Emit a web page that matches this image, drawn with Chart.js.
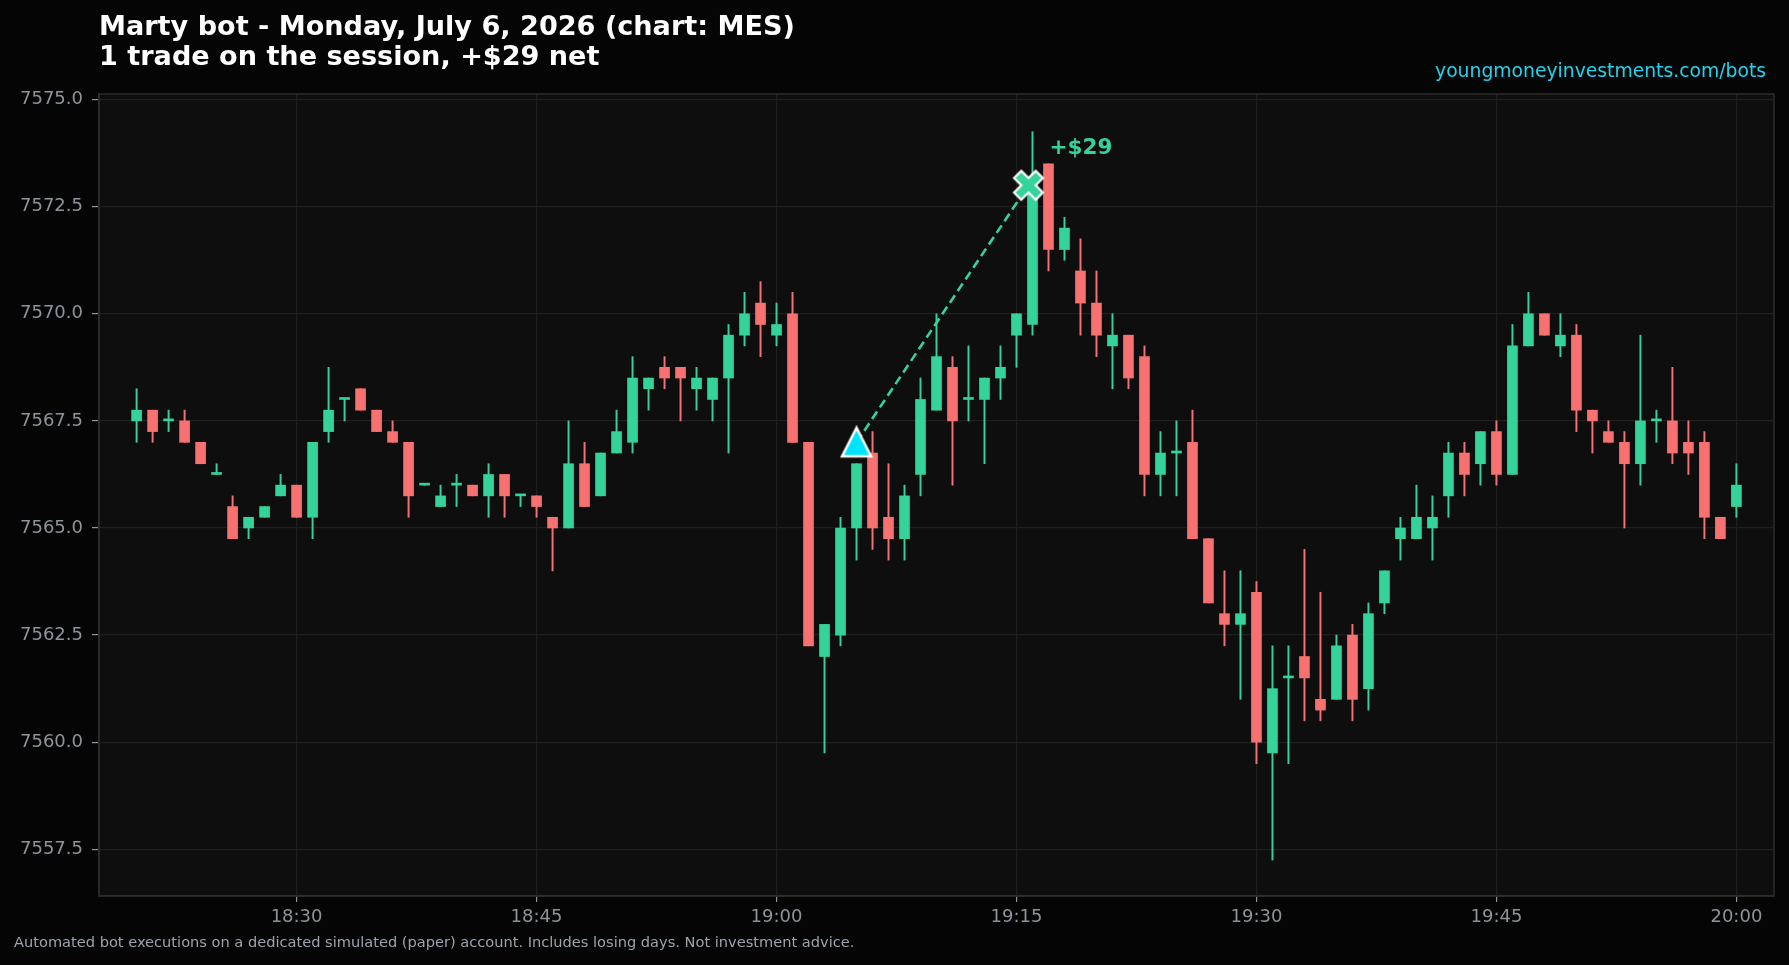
<!DOCTYPE html>
<html>
<head>
<meta charset="utf-8">
<script src="https://cdn.jsdelivr.net/npm/chart.js@4.4.1/dist/chart.umd.min.js"></script>
<style>
  html, body { margin: 0; padding: 0; background: #050505; }
  #wrap { width: 1789px; height: 965px; }
</style>
</head>
<body>
<div id="wrap"><canvas id="chart" width="1789" height="965"></canvas></div>
<script>
// one-minute MES candles
const times = ['18:20','18:21','18:22','18:23','18:24','18:25','18:26','18:27','18:28','18:29',
  '18:30','18:31','18:32','18:33','18:34','18:35','18:36','18:37','18:38','18:39',
  '18:40','18:41','18:42','18:43','18:44','18:45','18:46','18:47','18:48','18:49',
  '18:50','18:51','18:52','18:53','18:54','18:55','18:56','18:57','18:58','18:59',
  '19:00','19:01','19:02','19:03','19:04','19:05','19:06','19:07','19:08','19:09',
  '19:10','19:11','19:12','19:13','19:14','19:15','19:16','19:17','19:18','19:19',
  '19:20','19:21','19:22','19:23','19:24','19:25','19:26','19:27','19:28','19:29',
  '19:30','19:31','19:32','19:33','19:34','19:35','19:36','19:37','19:38','19:39',
  '19:40','19:41','19:42','19:43','19:44','19:45','19:46','19:47','19:48','19:49',
  '19:50','19:51','19:52','19:53','19:54','19:55','19:56','19:57','19:58','19:59','20:00'];
const opens = [7567.5,7567.75,7567.5,7567.5,7567.0,7566.25,7565.5,7565.0,7565.25,7565.75,
  7566.0,7565.25,7567.25,7568.0,7568.25,7567.75,7567.25,7567.0,7566.0,7565.5,
  7566.0,7566.0,7565.75,7566.25,7565.75,7565.75,7565.25,7565.0,7566.5,7565.75,
  7566.75,7567.0,7568.25,7568.75,7568.75,7568.25,7568.0,7568.5,7569.5,7570.25,
  7569.5,7570.0,7567.0,7562.0,7562.5,7565.0,7566.75,7565.25,7564.75,7566.25,
  7567.75,7568.75,7568.0,7568.0,7568.5,7569.5,7569.75,7573.5,7571.5,7571.0,
  7570.25,7569.25,7569.5,7569.0,7566.25,7566.75,7567.0,7564.75,7563.0,7562.75,
  7563.5,7559.75,7561.5,7562.0,7561.0,7561.0,7562.5,7561.25,7563.25,7564.75,
  7564.75,7565.0,7565.75,7566.75,7566.5,7567.25,7566.25,7569.25,7570.0,7569.25,
  7569.5,7567.75,7567.25,7567.0,7566.5,7567.5,7567.5,7567.0,7567.0,7565.25,7565.5];
const highs = [7568.25,7567.75,7567.75,7567.75,7567.0,7566.5,7565.75,7565.25,7565.5,7566.25,
  7566.0,7567.0,7568.75,7568.0,7568.25,7567.75,7567.5,7567.0,7566.0,7566.0,
  7566.25,7566.0,7566.5,7566.25,7565.75,7565.75,7565.25,7567.5,7567.0,7566.75,
  7567.75,7569.0,7568.5,7569.0,7568.75,7568.75,7568.5,7569.75,7570.5,7570.75,
  7570.25,7570.5,7567.0,7562.75,7565.25,7566.5,7567.25,7566.5,7566.0,7568.5,
  7570.0,7569.0,7569.25,7568.5,7569.25,7570.0,7574.25,7573.5,7572.25,7571.75,
  7571.0,7570.0,7569.5,7569.25,7567.25,7567.5,7567.75,7564.75,7564.0,7564.0,
  7563.75,7562.25,7562.25,7564.5,7563.5,7562.5,7562.75,7563.25,7564.0,7565.25,
  7566.0,7565.75,7567.0,7567.0,7567.25,7567.5,7569.75,7570.5,7570.0,7570.0,
  7569.75,7567.75,7567.5,7567.25,7569.5,7567.75,7568.75,7567.5,7567.25,7565.25,7566.5];
const lows = [7567.0,7567.0,7567.25,7567.0,7566.5,7566.25,7564.75,7564.75,7565.25,7565.75,
  7565.25,7564.75,7567.0,7567.5,7567.75,7567.25,7567.0,7565.25,7566.0,7565.5,
  7565.5,7565.75,7565.25,7565.25,7565.5,7565.25,7564.0,7565.0,7565.5,7565.75,
  7566.75,7566.75,7567.75,7568.25,7567.5,7567.75,7567.5,7566.75,7569.25,7569.0,
  7569.25,7567.0,7562.25,7559.75,7562.25,7564.25,7564.5,7564.25,7564.25,7565.75,
  7567.75,7566.0,7567.5,7566.5,7568.0,7568.75,7569.5,7571.0,7571.25,7569.5,
  7569.0,7568.25,7568.25,7565.75,7565.75,7565.75,7564.75,7563.25,7562.25,7561.0,
  7559.5,7557.25,7559.5,7560.5,7560.5,7561.0,7560.5,7560.75,7563.0,7564.25,
  7564.75,7564.25,7565.25,7565.75,7566.0,7566.0,7566.25,7569.25,7569.5,7569.0,
  7567.25,7566.75,7567.0,7565.0,7566.0,7567.0,7566.5,7566.25,7564.75,7564.75,7565.25];
const closes = [7567.75,7567.25,7567.5,7567.0,7566.5,7566.25,7564.75,7565.25,7565.5,7566.0,
  7565.25,7567.0,7567.75,7568.0,7567.75,7567.25,7567.0,7565.75,7566.0,7565.75,
  7566.0,7565.75,7566.25,7565.75,7565.75,7565.5,7565.0,7566.5,7565.5,7566.75,
  7567.25,7568.5,7568.5,7568.5,7568.5,7568.5,7568.5,7569.5,7570.0,7569.75,
  7569.75,7567.0,7562.25,7562.75,7565.0,7566.5,7565.0,7564.75,7565.75,7568.0,
  7569.0,7567.5,7568.0,7568.5,7568.75,7570.0,7573.0,7571.5,7572.0,7570.25,
  7569.5,7569.5,7568.5,7566.25,7566.75,7566.75,7564.75,7563.25,7562.75,7563.0,
  7560.0,7561.25,7561.5,7561.5,7560.75,7562.25,7561.0,7563.0,7564.0,7565.0,
  7565.25,7565.25,7566.75,7566.25,7567.25,7566.25,7569.25,7570.0,7569.5,7569.5,
  7567.75,7567.5,7567.0,7566.5,7567.5,7567.5,7566.75,7566.75,7565.25,7564.75,7566.0];

const yTicks = [7557.5, 7560.0, 7562.5, 7565.0, 7567.5, 7570.0, 7572.5, 7575.0];
const xTickLabels = ['18:30', '18:45', '19:00', '19:15', '19:30', '19:45', '20:00'];

const entryTime = '19:05:00';
const entryPrice = 7567.0;
const exitTime = '19:15:45';
const exitPrice = 7573.0;
const pnlText = '+$29';

const UP = '#34d399';
const DOWN = '#f87171';

// minutes since the first candle
function toMin(t) {
  const p = t.split(':').map(Number);
  return p[0] * 60 + p[1] + (p[2] || 0) / 60;
}
const t0 = toMin(times[0]);
const xs = times.map(t => toMin(t) - t0);
const xTickVals = xTickLabels.map(t => toMin(t) - t0);
const entryX = toMin(entryTime) - t0;
const exitX = toMin(exitTime) - t0;

const colors = opens.map((o, i) => closes[i] >= o ? UP : DOWN);
const bodies = xs.map((x, i) => ({ x: x, y: [opens[i], closes[i]] }));
const wicks = xs.map((x, i) => ({ x: x, y: [lows[i], highs[i]] }));

// marker images
function triangleMarker() {
  const c = document.createElement('canvas');
  c.width = 34; c.height = 34;
  const g = c.getContext('2d');
  g.beginPath();
  g.moveTo(17, 2.5); g.lineTo(31.5, 31); g.lineTo(2.5, 31); g.closePath();
  g.fillStyle = '#00e5ff'; g.fill();
  g.lineWidth = 2.5; g.strokeStyle = '#ffffff'; g.lineJoin = 'miter'; g.stroke();
  return c;
}
function xMarker() {
  const c = document.createElement('canvas');
  c.width = 36; c.height = 36;
  const g = c.getContext('2d');
  const pts = [[-1,-2],[0,-1],[1,-2],[2,-1],[1,0],[2,1],[1,2],[0,1],[-1,2],[-2,1],[-1,0],[-2,-1]];
  g.beginPath();
  pts.forEach((p, i) => {
    const px = 18 + p[0] * 7.2, py = 18 + p[1] * 7.2;
    if (i === 0) g.moveTo(px, py); else g.lineTo(px, py);
  });
  g.closePath();
  g.fillStyle = UP; g.fill();
  g.lineWidth = 2.2; g.strokeStyle = '#ffffff'; g.lineJoin = 'miter'; g.stroke();
  return c;
}

const frame = {
  id: 'frame',
  beforeDraw(chart) {
    const { ctx, chartArea: a } = chart;
    ctx.save();
    ctx.fillStyle = '#050505';
    ctx.fillRect(0, 0, chart.width, chart.height);
    ctx.fillStyle = '#0e0e0e';
    ctx.fillRect(a.left, a.top, a.right - a.left, a.bottom - a.top);
    ctx.restore();
  },
  afterDatasetsDraw(chart) {
    const { ctx, chartArea: a, scales } = chart;
    ctx.save();
    ctx.strokeStyle = '#2c2c2c';
    ctx.lineWidth = 1.5;
    ctx.strokeRect(a.left, a.top, a.right - a.left, a.bottom - a.top);
    // pnl label next to the exit marker
    const px = scales.x.getPixelForValue(exitX);
    const py = scales.y.getPixelForValue(exitPrice);
    ctx.fillStyle = UP;
    ctx.font = 'bold 21.5px "DejaVu Sans"';
    ctx.textBaseline = 'middle';
    ctx.textAlign = 'left';
    ctx.fillText(pnlText, px + 21, py - 37);
    ctx.restore();
  },
  afterDraw(chart) {
    const ctx = chart.ctx;
    ctx.save();
    ctx.textBaseline = 'alphabetic';
    ctx.fillStyle = '#ffffff';
    ctx.font = 'bold 27.1px "DejaVu Sans"';
    ctx.textAlign = 'left';
    ctx.fillText('Marty bot - Monday, July 6, 2026 (chart: MES)', 99, 35);
    ctx.fillText('1 trade on the session, +$29 net', 99, 65);
    ctx.fillStyle = '#22d3ee';
    ctx.font = '18.75px "DejaVu Sans"';
    ctx.textAlign = 'right';
    ctx.fillText('youngmoneyinvestments.com/bots', 1766, 77);
    ctx.fillStyle = '#9ca3af';
    ctx.font = '14.6px "DejaVu Sans"';
    ctx.textAlign = 'left';
    ctx.fillText('Automated bot executions on a dedicated simulated (paper) account. Includes losing days. Not investment advice.', 14, 947);
    ctx.restore();
  }
};

Chart.defaults.font.family = '"DejaVu Sans"';

const ctx = document.getElementById('chart').getContext('2d');
new Chart(ctx, {
  type: 'bar',
  data: {
    datasets: [{
      type: 'scatter',
      data: [{ x: entryX, y: entryPrice }],
      pointStyle: triangleMarker(),
      order: 0
    }, {
      type: 'scatter',
      data: [{ x: exitX, y: exitPrice }],
      pointStyle: xMarker(),
      order: 0
    }, {
      type: 'line',
      data: [{ x: entryX, y: entryPrice }, { x: exitX, y: exitPrice }],
      borderColor: UP,
      borderWidth: 2.6,
      borderDash: [9, 5],
      pointRadius: 0,
      order: 1
    }, {
      type: 'bar',
      data: bodies,
      backgroundColor: colors,
      barThickness: 10,
      minBarLength: 2,
      grouped: false,
      borderWidth: 0,
      order: 2
    }, {
      type: 'bar',
      data: wicks,
      backgroundColor: colors,
      barThickness: 1.3,
      grouped: false,
      borderWidth: 0,
      order: 3
    }]
  },
  options: {
    responsive: false,
    devicePixelRatio: 1,
    animation: false,
    layout: { padding: { top: 94, right: 15, bottom: 0, left: 0 } },
    plugins: {
      legend: { display: false },
      tooltip: { enabled: false }
    },
    scales: {
      x: {
        type: 'linear',
        min: -2.35,
        max: 102.35,
        offset: false,
        afterFit(s) { s.height = 69; },
        afterBuildTicks(s) { s.ticks = xTickVals.map(v => ({ value: v })); },
        ticks: {
          callback: (v, i) => xTickLabels[i],
          color: '#8e939b',
          font: { size: 18 },
          padding: 5,
          maxRotation: 0,
          autoSkip: false
        },
        grid: { offset: false, color: '#1f1f1f', lineWidth: 1.2, tickColor: '#8e939b', tickLength: 6 },
        border: { color: '#2c2c2c', width: 1.5 }
      },
      y: {
        type: 'linear',
        min: 7556.41,
        max: 7575.13,
        afterFit(s) { s.width = 99; },
        afterBuildTicks(s) { s.ticks = yTicks.map(v => ({ value: v })); },
        ticks: {
          callback: v => v.toFixed(1),
          color: '#8e939b',
          font: { size: 18 },
          padding: 9,
          autoSkip: false
        },
        grid: { color: '#1f1f1f', lineWidth: 1.2, tickColor: '#8e939b', tickLength: 7 },
        border: { color: '#2c2c2c', width: 1.5 }
      }
    }
  },
  plugins: [frame]
});
</script>
</body>
</html>
